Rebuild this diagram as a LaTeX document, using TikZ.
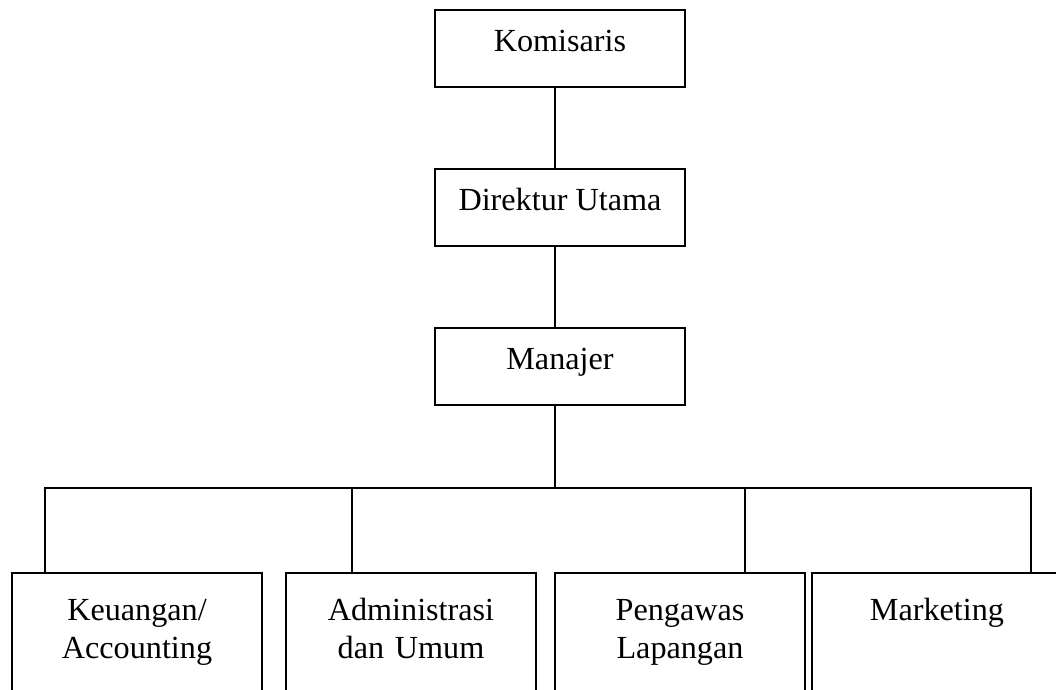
\documentclass[tikz,border=0pt]{standalone}
\usepackage{fontspec}
\setmainfont{Liberation Serif}
\usetikzlibrary{positioning,calc}
\tikzset{
  UnitBox/.style={
    draw, line width=0.7pt,
    inner sep=0pt,
    minimum width=95.5pt,
    text height=15.7pt, text depth=13.6pt,
    font=\fontsize{12.3}{14.5}\selectfont
  },
  DeptBox/.style={
    draw, line width=0.7pt,
    inner sep=0pt, anchor=north,
    minimum width=95.5pt,
    text width=95pt, align=center,
    text height=18pt, text depth=60pt,
    font=\fontsize{12.3}{14.5}\selectfont
  },
  Link/.style={line width=0.7pt}
}

\begin{document}
\begin{tikzpicture}[x=0.382pt, y=-0.382pt, line cap=rect]
  \path[use as bounding box, clip] (0,0) rectangle (1056,689);

  % top of the chart
  \node[UnitBox, anchor=north] (komisaris) at (560,9) {Komisaris};
  \node[UnitBox, below=30.8pt of komisaris] (direktur) {Direktur Utama};
  \node[UnitBox, below=30.8pt of direktur] (manajer) {Manajer};

  % departments (cut off at the bottom)
  \node[DeptBox] (keuangan) at (137,572) {Keuangan/\\Accounting};
  \node[DeptBox] (administrasi) at (411,572) {Administrasi\\dan Umum};
  \node[DeptBox] (pengawas) at (680,572) {Pengawas\\Lapangan};
  \node[DeptBox] (marketing) at (937,572) {Marketing};

  % the spine sits a little left of the box centres
  \coordinate (spine) at (555,0);
  \draw[Link] (komisaris.south -| spine) -- (direktur.north -| spine);
  \draw[Link] (direktur.south -| spine) -- (manajer.north -| spine);

  \coordinate (bar) at (555,488);
  \coordinate (barL) at (45,488);
  \coordinate (barR) at (1031,488);
  \draw[Link] (manajer.south -| bar) -- (bar);
  \draw[Link] (barL) -- (barR);

  \foreach \x/\dept in {45/keuangan,352/administrasi,745/pengawas,1031/marketing}{
    \coordinate (drop-\dept) at (\x,488);
    \draw[Link] (drop-\dept) -- (drop-\dept |- \dept.north);
  }
\end{tikzpicture}
\end{document}
